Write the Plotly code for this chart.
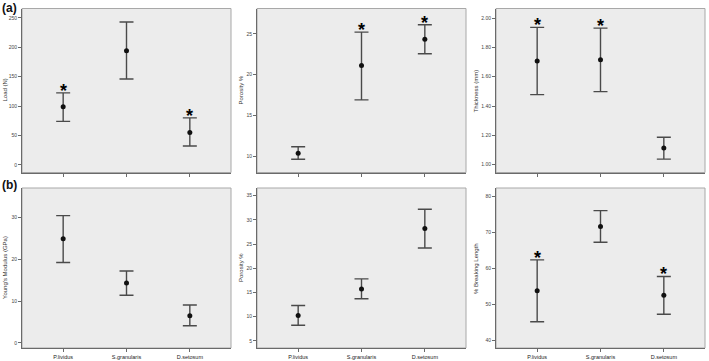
import plotly.graph_objects as go

categories = ["P.lividus", "S.granularis", "D.setosum"]

# Panel (a)
load_mean = [99, 194, 55]
load_upper = [122.5, 243, 80]
load_lower = [74, 146, 32]
load_sig = [True, False, True]

por_a_mean = [10.37, 21.1, 24.34]
por_a_upper = [11.15, 25.2, 26.1]
por_a_lower = [9.63, 16.9, 22.55]
por_a_sig = [False, True, True]

thick_mean = [1.707, 1.716, 1.114]
thick_upper = [1.936, 1.931, 1.187]
thick_lower = [1.478, 1.498, 1.038]
thick_sig = [True, True, False]

# Panel (b)
ym_mean = [24.9, 14.3, 6.5]
ym_upper = [30.4, 17.2, 9.05]
ym_lower = [19.2, 11.4, 4.1]
ym_sig = [False, False, False]

por_b_mean = [10.2, 15.7, 28.2]
por_b_upper = [12.3, 17.8, 32.2]
por_b_lower = [8.2, 13.7, 24.2]
por_b_sig = [False, False, False]

bl_mean = [53.8, 71.7, 52.6]
bl_upper = [62.4, 76.1, 57.8]
bl_lower = [45.2, 67.3, 47.3]
bl_sig = [True, False, True]

panels = [
    dict(mean=load_mean, up=load_upper, lo=load_lower, sig=load_sig, title="Load (N)",
         rng=[-13, 266], tickvals=[0, 50, 100, 150, 200, 250], fmt="d"),
    dict(mean=por_a_mean, up=por_a_upper, lo=por_a_lower, sig=por_a_sig, title="Porosity %",
         rng=[8.0, 28.1], tickvals=[10, 15, 20, 25], fmt="d"),
    dict(mean=thick_mean, up=thick_upper, lo=thick_lower, sig=thick_sig, title="Thickness (mm)",
         rng=[0.947, 2.065], tickvals=[1.0, 1.2, 1.4, 1.6, 1.8, 2.0], fmt=".2f"),
    dict(mean=ym_mean, up=ym_upper, lo=ym_lower, sig=ym_sig, title="Young's Modulus (GPa)",
         rng=[-1.2, 37.0], tickvals=[0, 10, 20, 30], fmt="d"),
    dict(mean=por_b_mean, up=por_b_upper, lo=por_b_lower, sig=por_b_sig, title="Porosity %",
         rng=[3.5, 36.6], tickvals=[5, 10, 15, 20, 25, 30, 35], fmt="d"),
    dict(mean=bl_mean, up=bl_upper, lo=bl_lower, sig=bl_sig, title="% Breaking Length",
         rng=[37.9, 82.4], tickvals=[40, 50, 60, 70, 80], fmt="d"),
]

W, H = 709, 361
col_px = [(22, 231), (257, 466), (496, 705)]
row_px = [(8.5, 172.5), (188, 348)]
title_x_px = [5, 241, 476]

fig = go.Figure()
layout = dict(
    width=W, height=H, margin=dict(l=0, r=0, t=0, b=0),
    paper_bgcolor="white", plot_bgcolor="#ececec", showlegend=False,
    font=dict(family="Liberation Sans, Arial, sans-serif", color="#333"),
)
annotations = []
shapes = []

for i, p in enumerate(panels):
    r, c = divmod(i, 3)
    n = i + 1
    xa = "x" if n == 1 else f"x{n}"
    ya = "y" if n == 1 else f"y{n}"
    xkey = "xaxis" if n == 1 else f"xaxis{n}"
    ykey = "yaxis" if n == 1 else f"yaxis{n}"
    x0, x1 = col_px[c]
    y0, y1 = row_px[r]
    err_plus = [u - m for u, m in zip(p["up"], p["mean"])]
    err_minus = [m - l for m, l in zip(p["mean"], p["lo"])]
    fig.add_trace(go.Scatter(
        x=[0, 1, 2], y=p["mean"], mode="markers", xaxis=xa, yaxis=ya,
        marker=dict(color="#111", size=5),
        error_y=dict(type="data", symmetric=False, array=err_plus, arrayminus=err_minus,
                     width=7, thickness=1.4, color="#4a4a4a"),
    ))
    layout[xkey] = dict(
        domain=[x0 / W, x1 / W], anchor=ya, range=[-0.65, 2.65],
        tickmode="array", tickvals=[0, 1, 2],
        ticktext=categories if r == 1 else ["", "", ""],
        showgrid=False, zeroline=False, showline=True, linecolor="#6a6a6a", linewidth=1,
        ticks="outside", ticklen=3, tickcolor="#6a6a6a", tickwidth=1,
        showticklabels=True, tickfont=dict(size=5.5, color="#222"),
    )
    layout[ykey] = dict(
        domain=[1 - y1 / H, 1 - y0 / H], anchor=xa, range=p["rng"],
        tickvals=p["tickvals"], tickformat=p["fmt"],
        showgrid=False, zeroline=False, showline=True, linecolor="#6a6a6a", linewidth=1,
        ticks="outside", ticklen=3, tickcolor="#6a6a6a", tickwidth=1,
        tickfont=dict(size=5, color="#444"),
    )
    shapes.append(dict(type="rect", xref=f"{xa} domain", yref=f"{ya} domain",
                       x0=0, x1=1, y0=0, y1=1, line=dict(color="#a8a8a8", width=1),
                       layer="below"))
    annotations.append(dict(
        text=p["title"], xref="paper", yref="paper",
        x=title_x_px[c] / W, y=1 - (y0 + y1) / 2 / H, textangle=-90,
        showarrow=False, xanchor="center", yanchor="middle",
        font=dict(size=6, color="#333"),
    ))
    for k, (up, s) in enumerate(zip(p["up"], p["sig"])):
        if s:
            annotations.append(dict(
                text="<b>*</b>", x=k, y=up, xref=xa, yref=ya, showarrow=False,
                yanchor="middle", yshift=2, font=dict(size=18, color="#000000"),
            ))

annotations.append(dict(text="<b>(a)</b>", xref="paper", yref="paper", x=1 / W, y=1,
                        xanchor="left", yanchor="top", showarrow=False, borderpad=0,
                        font=dict(size=12, color="#111")))
annotations.append(dict(text="<b>(b)</b>", xref="paper", yref="paper", x=1 / W, y=1 - 177 / H,
                        xanchor="left", yanchor="top", showarrow=False, borderpad=0,
                        font=dict(size=12, color="#111")))

layout["annotations"] = annotations
layout["shapes"] = shapes
fig.update_layout(**layout)
fig.write_html("out.html", config={"displayModeBar": False},
               post_script="document.body.style.margin='0';")
